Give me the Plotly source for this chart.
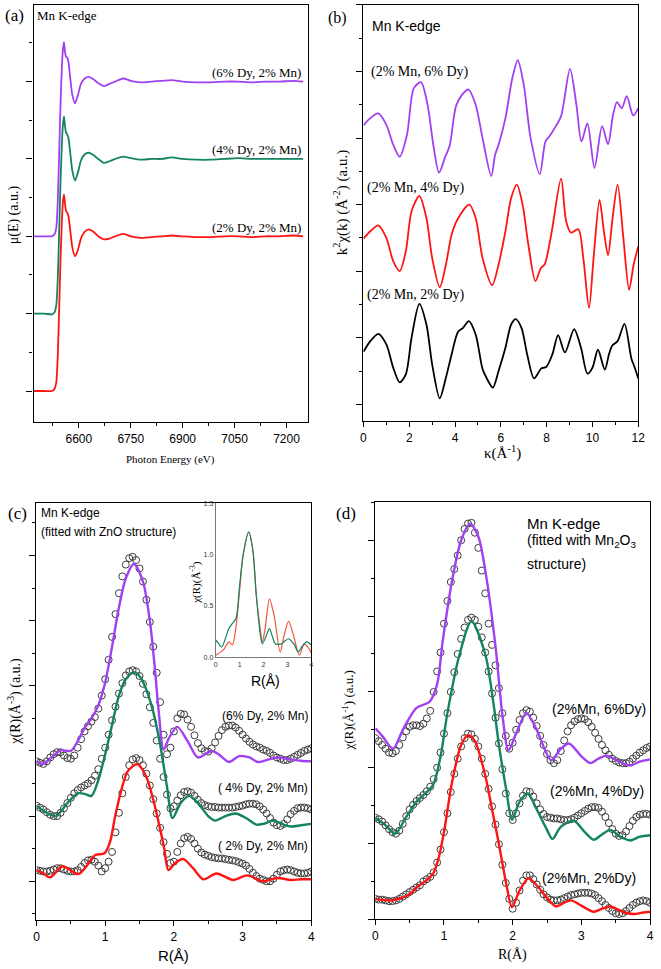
import numpy as np
import plotly.graph_objects as go

W, H = 661, 969
SERIF = "Liberation Serif, Times New Roman, serif"
SANS = "Liberation Sans, Arial, sans-serif"
PURPLE = "#a040f0"
GREEN = "#138462"
RED = "#ff1414"
BLACK = "#000000"

# ---------------- (a) XANES ----------------
E_a = [6470, 6500, 6522, 6530, 6535, 6539, 6543, 6547, 6551, 6554, 6557, 6560, 6563, 6566, 6570,
       6575, 6581, 6589, 6597, 6606, 6617, 6629, 6642, 6656, 6672, 6688, 6705, 6728, 6750, 6778,
       6810, 6840, 6868, 6900, 6940, 6980, 7020, 7060, 7100, 7140, 7180, 7220, 7248]
mu_2Dy = [0, 0, 0.0, 0.03, 0.12, 0.45, 1.05, 1.7, 2.2, 2.45, 2.54, 2.42, 2.33, 2.31, 2.26,
          2.08, 1.86, 1.74, 1.82, 1.97, 2.06, 2.09, 2.06, 2.0, 1.96, 1.97, 2.0, 2.03, 2.0, 1.98,
          1.99, 2.0, 2.01, 2.0, 1.99, 1.99, 2.0, 2.0, 1.99, 2.0, 2.0, 2.01, 2.0]
mu_4Dy = [1, 1, 0.99, 1.02, 1.12, 1.45, 2.05, 2.7, 3.2, 3.45, 3.55, 3.42, 3.34, 3.32, 3.27,
          3.08, 2.85, 2.72, 2.82, 2.98, 3.06, 3.08, 3.05, 3.0, 2.95, 2.97, 3.0, 3.03, 3.01, 2.99,
          3.0, 3.0, 3.02, 3.0, 2.99, 2.99, 3.0, 3.01, 3.0, 3.0, 3.0, 3.0, 3.0]
mu_6Dy = [2, 2, 2.0, 2.03, 2.12, 2.45, 3.05, 3.7, 4.2, 4.42, 4.51, 4.38, 4.32, 4.31, 4.25,
          4.05, 3.83, 3.72, 3.82, 3.97, 4.04, 4.06, 4.03, 3.98, 3.94, 3.97, 4.0, 4.04, 4.01, 3.99,
          4.0, 4.01, 4.02, 4.0, 3.99, 3.99, 4.0, 4.0, 3.99, 4.0, 4.0, 4.01, 4.0]

# ---------------- (b) k-space ----------------
k_2Dy = [0, 0.3, 0.65, 1.0, 1.3, 1.58, 1.85, 2.1, 2.44, 2.75, 3.0, 3.33, 3.6, 3.85, 4.13, 4.35,
         4.6, 4.9, 5.2, 5.4, 5.65, 5.9, 6.2, 6.45, 6.65, 6.9, 7.15, 7.45, 7.77, 7.98, 8.25, 8.5,
         8.8, 9.2, 9.5, 9.78, 10.0, 10.24, 10.54, 10.72, 10.86, 11.1, 11.4, 11.7, 11.85, 12.0]
chi_2Dy = [0.79, 0.95, 1.06, 0.9, 0.55, 0.33, 0.45, 1.0, 1.51, 1.2, 0.6, 0.09, 0.4, 0.75, 1.09, 1.15,
           1.25, 1.05, 0.53, 0.38, 0.25, 0.5, 0.85, 1.2, 1.28, 1.15, 0.75, 0.39, 0.54, 0.56, 0.75, 1.04,
           0.78, 1.13, 0.85, 0.46, 0.55, 0.82, 0.52, 0.75, 0.88, 0.95, 1.21, 0.69, 0.55, 0.39]
k_4Dy = [0, 0.3, 0.65, 1.0, 1.3, 1.58, 1.85, 2.1, 2.44, 2.75, 3.0, 3.33, 3.6, 3.85, 4.11, 4.62,
         4.9, 5.2, 5.62, 5.9, 6.2, 6.45, 6.7, 6.95, 7.2, 7.51, 7.75, 7.91, 8.2, 8.63, 8.85, 9.06,
         9.38, 9.6, 9.85, 10.05, 10.31, 10.5, 10.68, 10.88, 11.1, 11.35, 11.6, 11.8, 12.0]
chi_4Dy = [2.49, 2.6, 2.69, 2.5, 2.15, 2.0, 2.3, 2.9, 3.13, 2.8, 2.2, 1.76, 2.1, 2.55, 2.78, 3.0,
           2.8, 2.2, 1.79, 2.1, 2.6, 3.1, 3.3, 3.0, 2.4, 1.85, 2.05, 2.1, 2.55, 3.39, 2.75, 2.58,
           2.63, 2.2, 1.45, 2.2, 3.07, 2.6, 2.24, 2.8, 3.3, 2.5, 1.72, 2.1, 2.37]
k_6Dy = [0, 0.3, 0.65, 1.0, 1.3, 1.58, 1.9, 2.2, 2.51, 2.8, 3.05, 3.3, 3.55, 3.76, 4.04, 4.3,
         4.59, 4.9, 5.2, 5.58, 5.75, 5.9, 6.2, 6.5, 6.74, 7.0, 7.3, 7.7, 7.95, 8.13, 8.35, 8.63,
         9.02, 9.3, 9.52, 9.78, 10.09, 10.42, 10.68, 10.9, 11.07, 11.28, 11.5, 11.78, 12.0]
chi_6Dy = [4.19, 4.3, 4.37, 4.2, 3.9, 3.72, 4.05, 4.75, 4.84, 4.5, 3.9, 3.48, 3.7, 3.88, 4.48, 4.65,
           4.73, 4.5, 4.0, 3.43, 3.75, 3.9, 4.3, 4.9, 5.17, 4.8, 4.0, 3.46, 3.95, 4.03, 4.15, 4.33,
           5.04, 4.5, 3.95, 4.22, 3.55, 4.18, 3.91, 4.35, 4.54, 4.45, 4.63, 4.34, 4.45]

# ---------------- (c) R-space, ZnO fits ----------------
R_data = np.round(np.linspace(0, 4, 81), 2)
c_dat_2Dy = [0.17, 0.16, 0.15, 0.15, 0.16, 0.18, 0.2, 0.2, 0.18, 0.16, 0.15,
             0.15, 0.17, 0.22, 0.28, 0.32, 0.33, 0.3, 0.24, 0.15, 0.2,
             0.3, 0.45, 0.75, 1.05, 1.35, 1.6, 1.78, 1.87, 1.89, 1.86,
             1.78, 1.65, 1.47, 1.26, 1.04, 0.82, 0.6, 0.42, 0.28, 0.3,
             0.45, 0.58, 0.66, 0.68, 0.65, 0.58, 0.5, 0.44, 0.41, 0.39,
             0.37, 0.36, 0.35, 0.35, 0.34, 0.33, 0.32, 0.31, 0.29, 0.27,
             0.24, 0.19, 0.13, 0.08, 0.04, 0.02, 0.0, 0.0, 0.04, 0.1,
             0.15, 0.17, 0.18, 0.17, 0.15, 0.13, 0.12, 0.12, 0.13, 0.15]
c_dat_4Dy = [1.16, 1.13, 1.1, 1.06, 1.02, 1.0, 1.0, 1.05, 1.12, 1.2, 1.28,
             1.35, 1.4, 1.44, 1.47, 1.5, 1.55, 1.62, 1.72, 1.88, 2.05,
             2.25, 2.47, 2.68, 2.88, 3.04, 3.16, 3.22, 3.24, 3.22, 3.15,
             3.03, 2.87, 2.67, 2.43, 2.16, 1.88, 1.6, 1.33, 1.12, 1.15,
             1.24, 1.32, 1.37, 1.38, 1.36, 1.31, 1.25, 1.2, 1.17, 1.15,
             1.14, 1.14, 1.13, 1.13, 1.13, 1.13, 1.13, 1.14, 1.15, 1.16,
             1.18, 1.19, 1.19, 1.18, 1.15, 1.1, 1.04, 0.97, 0.9, 0.86,
             0.85, 0.88, 0.95, 1.03, 1.08, 1.12, 1.13, 1.13, 1.12, 1.1]
c_dat_6Dy = [1.84, 1.82, 1.8, 1.84, 1.9, 1.95, 1.98, 1.98, 1.93, 1.89, 1.88,
             1.93, 2.05, 2.18, 2.3, 2.38, 2.45, 2.52, 2.65, 2.85, 3.1,
             3.4, 3.75, 4.1, 4.42, 4.68, 4.86, 4.96, 4.98, 4.93, 4.8,
             4.6, 4.32, 3.98, 3.6, 3.2, 2.75, 2.25, 1.95, 2.05, 2.3,
             2.5, 2.57, 2.56, 2.48, 2.37, 2.24, 2.12, 2.04, 2.0, 1.99,
             2.04, 2.13, 2.23, 2.32, 2.37, 2.39, 2.39, 2.36, 2.31, 2.25,
             2.19, 2.14, 2.1, 2.07, 2.05, 2.02, 2.0, 1.97, 1.93, 1.9,
             1.88, 1.86, 1.86, 1.88, 1.91, 1.94, 1.97, 2.0, 2.02, 2.04]
c_R_fit_2Dy = [0, 0.1, 0.2, 0.37, 0.45, 0.61, 0.72, 0.85, 0.99, 1.07, 1.14, 1.23, 1.33, 1.47, 1.6, 1.7,
               1.8, 1.86, 1.92, 2.02, 2.14, 2.28, 2.43, 2.62, 2.86, 3.07, 3.29, 3.5, 3.7, 3.85, 4.0]
c_fit_2Dy = [0.17, 0.12, 0.06, 0.23, 0.2, 0.11, 0.22, 0.4, 0.43, 0.6, 0.97, 1.38, 1.69, 1.8, 1.6, 1.25,
             0.8, 0.5, 0.17, 0.28, 0.34, 0.2, 0.03, 0.12, 0.02, 0.09, 0.0, 0.05, 0.02, 0.03, 0.03]
c_R_fit_4Dy = [0, 0.1, 0.28, 0.45, 0.6, 0.7, 0.8, 0.9, 1.0, 1.1, 1.2, 1.3, 1.42, 1.52, 1.62, 1.7, 1.8,
               1.9, 1.98, 2.1, 2.22, 2.35, 2.5, 2.6, 2.75, 2.9, 3.05, 3.2, 3.3, 3.45, 3.6, 3.7, 3.85, 4.0]
c_fit_4Dy = [1.16, 1.08, 1.0, 1.2, 1.35, 1.34, 1.31, 1.55, 1.95, 2.4, 2.85, 3.1, 3.21, 3.12, 2.88, 2.6, 2.1,
             1.45, 0.97, 1.2, 1.31, 1.2, 1.0, 0.93, 1.0, 1.04, 0.97, 0.87, 0.88, 0.93, 0.87, 0.84, 0.86, 0.88]
c_R_fit_6Dy = [0, 0.1, 0.2, 0.35, 0.5, 0.6, 0.7, 0.8, 0.9, 1.0, 1.1, 1.2, 1.3, 1.42, 1.55, 1.65, 1.72,
               1.78, 1.85, 1.93, 2.05, 2.2, 2.35, 2.55, 2.65, 2.8, 2.95, 3.1, 3.22, 3.35, 3.5, 3.7, 3.85, 4.0]
c_fit_6Dy = [1.84, 1.8, 1.88, 2.01, 2.0, 2.15, 2.35, 2.5, 2.7, 3.05, 3.6, 4.2, 4.65, 4.87, 4.6, 4.0, 3.3,
             2.6, 2.02, 2.2, 2.37, 2.15, 1.9, 2.0, 1.95, 1.83, 1.92, 1.9, 1.83, 1.86, 1.9, 1.87, 1.85, 1.84]

# inset of (c)
ins_R_green = [0, 0.1, 0.25, 0.4, 0.55, 0.7, 0.85, 1.0, 1.15, 1.38, 1.55, 1.7, 1.85, 1.95, 2.1, 2.25,
               2.4, 2.5, 2.75, 2.9, 3.05, 3.2, 3.3, 3.45, 3.6, 3.8, 4.0]
ins_green = [0.17, 0.14, 0.1, 0.18, 0.28, 0.33, 0.38, 0.7, 1.0, 1.22, 1.05, 0.6, 0.25, 0.13, 0.2, 0.28,
             0.18, 0.13, 0.13, 0.16, 0.18, 0.15, 0.12, 0.05, 0.1, 0.15, 0.12]
ins_R_red = [0, 0.2, 0.35, 0.45, 0.55, 0.7, 0.85, 1.0, 1.15, 1.38, 1.55, 1.7, 1.85, 1.95, 2.05, 2.25,
             2.45, 2.7, 2.85, 3.05, 3.25, 3.5, 3.7, 3.85, 4.0]
ins_red = [0.02, 0.05, 0.08, 0.12, 0.15, 0.12, 0.3, 0.65, 1.0, 1.22, 1.05, 0.6, 0.3, 0.15, 0.25, 0.57,
           0.4, 0.05, 0.2, 0.35, 0.22, 0.02, 0.13, 0.1, 0.04]

# ---------------- (d) R-space, Mn2O3 fits ----------------
d_dat_2Dy = [0.27, 0.26, 0.26, 0.25, 0.24, 0.24, 0.25, 0.27, 0.3, 0.33, 0.36,
             0.39, 0.42, 0.45, 0.5, 0.53, 0.56, 0.62, 0.75, 0.92, 1.15,
             1.4, 1.68, 1.92, 2.12, 2.28, 2.39, 2.45, 2.44, 2.38, 2.28,
             2.12, 1.92, 1.72, 1.49, 1.25, 0.99, 0.72, 0.48, 0.27, 0.14,
             0.22, 0.38, 0.51, 0.58, 0.58, 0.53, 0.46, 0.39, 0.33, 0.29,
             0.26, 0.25, 0.25, 0.26, 0.28, 0.3, 0.32, 0.33, 0.34, 0.35,
             0.35, 0.35, 0.34, 0.32, 0.28, 0.24, 0.19, 0.15, 0.11, 0.08,
             0.07, 0.08, 0.11, 0.15, 0.19, 0.22, 0.24, 0.25, 0.24, 0.22]
d_dat_4Dy = [1.34, 1.32, 1.29, 1.24, 1.19, 1.15, 1.13, 1.17, 1.26, 1.36, 1.45,
             1.51, 1.56, 1.6, 1.64, 1.69, 1.75, 1.85, 2.0, 2.2, 2.45,
             2.72, 3.0, 3.26, 3.5, 3.7, 3.85, 3.95, 3.98, 3.95, 3.86,
             3.72, 3.52, 3.27, 2.98, 2.66, 2.32, 1.98, 1.66, 1.4, 1.31,
             1.4, 1.53, 1.63, 1.69, 1.68, 1.62, 1.53, 1.45, 1.39, 1.35,
             1.34, 1.33, 1.33, 1.32, 1.31, 1.31, 1.32, 1.34, 1.37, 1.4,
             1.43, 1.46, 1.48, 1.48, 1.47, 1.42, 1.35, 1.27, 1.19, 1.13,
             1.1, 1.11, 1.16, 1.23, 1.3, 1.35, 1.38, 1.39, 1.39, 1.38]
d_dat_6Dy = [2.39, 2.35, 2.3, 2.25, 2.2, 2.19, 2.22, 2.3, 2.4, 2.48, 2.54,
             2.56, 2.56, 2.55, 2.58, 2.65, 2.75, 3.0, 3.27, 3.52, 3.9,
             4.2, 4.45, 4.62, 4.8, 5.0, 5.15, 5.22, 5.23, 5.1, 4.9,
             4.6, 4.3, 3.9, 3.62, 3.35, 3.05, 2.72, 2.42, 2.25, 2.33,
             2.5, 2.63, 2.72, 2.76, 2.74, 2.66, 2.55, 2.42, 2.3, 2.18,
             2.1, 2.06, 2.1, 2.22, 2.36, 2.48, 2.56, 2.61, 2.64, 2.65,
             2.64, 2.6, 2.54, 2.46, 2.38, 2.3, 2.23, 2.17, 2.12, 2.09,
             2.07, 2.06, 2.06, 2.08, 2.12, 2.16, 2.2, 2.23, 2.26, 2.28]
d_R_fit_2Dy = [0, 0.25, 0.5, 0.6, 0.74, 0.84, 0.92, 1.0, 1.12, 1.25, 1.35, 1.45, 1.6, 1.7, 1.79, 1.9,
               1.99, 2.1, 2.23, 2.35, 2.5, 2.63, 2.75, 2.85, 3.0, 3.18, 3.3, 3.42, 3.6, 3.76, 3.9, 4.0]
d_fit_2Dy = [0.27, 0.25, 0.33, 0.42, 0.51, 0.6, 0.8, 1.15, 1.82, 2.3, 2.43, 2.35, 1.9, 1.45, 1.04, 0.5,
             0.16, 0.38, 0.54, 0.45, 0.28, 0.17, 0.22, 0.25, 0.18, 0.1, 0.14, 0.17, 0.1, 0.07, 0.09, 0.1]
d_R_fit_4Dy = [0, 0.15, 0.29, 0.45, 0.6, 0.69, 0.84, 0.95, 1.05, 1.22, 1.4, 1.6, 1.72, 1.8, 1.91, 1.99,
               2.1, 2.22, 2.35, 2.5, 2.58, 2.7, 2.89, 3.05, 3.18, 3.3, 3.42, 3.55, 3.71, 3.85, 4.0]
d_fit_4Dy = [1.34, 1.24, 1.13, 1.35, 1.55, 1.63, 1.77, 2.15, 2.72, 3.47, 3.93, 3.5, 2.85, 2.3, 1.69, 1.31,
             1.55, 1.66, 1.45, 1.18, 1.06, 1.22, 1.3, 1.15, 1.05, 1.12, 1.18, 1.1, 1.04, 1.09, 1.11]
d_R_fit_6Dy = [0, 0.1, 0.26, 0.4, 0.6, 0.79, 0.9, 0.98, 1.12, 1.25, 1.38, 1.5, 1.6, 1.75, 1.85, 1.94,
               2.05, 2.2, 2.35, 2.56, 2.7, 2.82, 3.0, 3.13, 3.25, 3.37, 3.55, 3.71, 3.85, 4.0]
d_fit_6Dy = [2.52, 2.42, 2.25, 2.5, 2.79, 2.87, 3.1, 3.66, 4.48, 5.0, 5.22, 5.05, 4.61, 3.6, 2.7, 2.23,
             2.45, 2.72, 2.5, 2.1, 2.25, 2.32, 2.15, 2.06, 2.12, 2.16, 2.08, 2.03, 2.08, 2.11]

# ---------------- helpers (window pixels -> paper) ----------------
def px_x(px):
    return min(max(px / W, 0.0), 1.0)

def px_y(py):
    return min(max(1 - py / H, 0.0), 1.0)

def dom(x0, x1, y0, y1):
    return [px_x(x0), px_x(x1)], [px_y(y1), px_y(y0)]

fig = go.Figure()

def line(x, y, ax, color, width=2.0, smooth=0.8):
    fig.add_trace(go.Scatter(x=x, y=y, mode="lines", xaxis="x" + ax, yaxis="y" + ax,
                             line=dict(color=color, width=width, shape="spline", smoothing=smooth),
                             showlegend=False, hoverinfo="skip"))

def circles(x, y, ax):
    fig.add_trace(go.Scatter(x=x, y=y, mode="markers", xaxis="x" + ax, yaxis="y" + ax,
                             marker=dict(symbol="circle-open", size=7, color="#3c3c3c",
                                         line=dict(width=1, color="#3c3c3c")),
                             showlegend=False, hoverinfo="skip"))

# (a)
line(E_a, mu_2Dy, "", RED, 1.8, 0.6)
line(E_a, mu_4Dy, "", GREEN, 1.8, 0.6)
line(E_a, mu_6Dy, "", PURPLE, 1.8, 0.6)
# (b)
line(k_6Dy, chi_6Dy, "2", PURPLE, 1.8)
line(k_4Dy, chi_4Dy, "2", RED, 1.8)
line(k_2Dy, chi_2Dy, "2", BLACK, 1.8)
# (c)
circles(R_data, c_dat_6Dy, "3")
circles(R_data, c_dat_4Dy, "3")
circles(R_data, c_dat_2Dy, "3")
line(c_R_fit_6Dy, c_fit_6Dy, "3", PURPLE, 2.4)
line(c_R_fit_4Dy, c_fit_4Dy, "3", GREEN, 2.4)
line(c_R_fit_2Dy, c_fit_2Dy, "3", RED, 2.4)
# (d)
circles(R_data, d_dat_6Dy, "4")
circles(R_data, d_dat_4Dy, "4")
circles(R_data, d_dat_2Dy, "4")
line(d_R_fit_6Dy, d_fit_6Dy, "4", PURPLE, 2.4)
line(d_R_fit_4Dy, d_fit_4Dy, "4", GREEN, 2.4)
line(d_R_fit_2Dy, d_fit_2Dy, "4", RED, 2.4)
# inset
line(ins_R_red, ins_red, "5", "#f0553c", 1.2)
line(ins_R_green, ins_green, "5", GREEN, 1.2)

tickfont = dict(family=SANS, size=12, color="black")

def xax(domain, rng, dtick, minor_dtick, tick0=0, anchor="y"):
    return dict(domain=domain, range=rng, anchor=anchor, showline=True, mirror=True,
                linecolor="black", linewidth=1.3, ticks="outside", ticklen=5, tickwidth=1.2,
                tickcolor="black", tickmode="linear", tick0=tick0, dtick=dtick,
                minor=dict(ticks="outside", ticklen=3, dtick=minor_dtick, tick0=tick0,
                           tickcolor="black", tickwidth=1.1),
                ticklabeloverflow="allow",
                showgrid=False, zeroline=False, tickfont=tickfont)

def yax(domain, rng, anchor="x"):
    return dict(domain=domain, range=rng, anchor=anchor, showline=True, mirror=True,
                linecolor="black", linewidth=1.3, ticks="outside", ticklen=6, tickwidth=1.2,
                tickcolor="black", tickmode="linear", tick0=0, dtick=1,
                minor=dict(ticks="outside", ticklen=3, dtick=0.5, tick0=0,
                           tickcolor="black", tickwidth=1.1),
                showticklabels=False, showgrid=False, zeroline=False)

xa, ya = dom(31, 310, 1, 421)
xb, yb = dom(366, 645, 1, 420)
xc, yc = dom(34, 313, 503, 923)
xd, yd = dom(378, 657, 502, 922)
xi, yi = dom(216, 313, 503, 658)

layout = dict(
    width=W, height=H, margin=dict(l=0, r=0, t=0, b=0),
    paper_bgcolor="white", plot_bgcolor="rgba(0,0,0,0)", showlegend=False,
    xaxis=xax(xa, [6469, 7263], 150, 75, tick0=6600, anchor="y"),
    yaxis=yax(ya, [-0.4, 4.99], anchor="x"),
    xaxis2=xax(xb, [0, 12], 2, 1, anchor="y2"),
    yaxis2=yax(yb, [-0.25, 6.0], anchor="x2"),
    xaxis3=xax(xc, [0, 4], 1, 0.5, anchor="y3"),
    yaxis3=yax(yc, [-0.6, 5.8], anchor="x3"),
    xaxis4=xax(xd, [0, 4], 1, 0.5, anchor="y4"),
    yaxis4=yax(yd, [0, 5.5], anchor="x4"),
    xaxis5=dict(domain=xi, range=[0, 4], anchor="y5", showline=True, linecolor="#777",
                linewidth=1, ticks="", tickmode="linear", tick0=0, dtick=1,
                showgrid=False, zeroline=False, tickfont=dict(family=SANS, size=7, color="#333")),
    yaxis5=dict(domain=yi, range=[0, 1.5], anchor="x5", showline=True, linecolor="#777",
                linewidth=1, ticks="", tickmode="linear", tick0=0, dtick=0.5, tickformat=".1f",
                showgrid=False, zeroline=False, tickfont=dict(family=SANS, size=7, color="#333")),
)
fig.update_layout(**layout)

def ann(text, x, y, size, family=SERIF, xanchor="center", angle=0):
    fig.add_annotation(text=text, x=px_x(x), y=px_y(y), xref="paper", yref="paper",
                       showarrow=False, xanchor=xanchor, yanchor="middle", textangle=angle,
                       font=dict(family=family, size=size, color="black"))

# (a) texts
ann("(a)", 12, 12, 17)
ann("Mn K-edge", 32, 12, 13, xanchor="left")
ann("(6% Dy, 2% Mn)", 305, 69, 13, xanchor="right")
ann("(4% Dy, 2% Mn)", 305, 147, 13, xanchor="right")
ann("(2% Dy, 2% Mn)", 305, 225, 13, xanchor="right")
ann("μ(E) (a.u.)", 12, 212, 14, angle=-90)
ann("Photon Energy (eV)", 170, 459, 11)
# (b) texts
ann("(b)", 340, 14, 16)
ann("Mn K-edge", 373, 22, 14, family=SANS, xanchor="left")
ann("(2% Mn, 6% Dy)", 372, 68, 14, xanchor="left")
ann("(2% Mn, 4% Dy)", 368, 185, 14, xanchor="left")
ann("(2% Mn, 2% Dy)", 368, 293, 14, xanchor="left")
ann("k<sup>2</sup>χ(k) (Å<sup>-2</sup>) (a.u.)", 343, 200, 15, angle=-90)
ann("κ(Å<sup>-1</sup>)", 507, 452, 15)
# (c) texts
ann("(c)", 15, 513, 17)
ann("Mn K-edge", 37, 513, 12, family=SANS, xanchor="left")
ann("(fitted with ZnO structure)", 37, 532, 12, family=SANS, xanchor="left")
ann("(6% Dy, 2% Mn)", 312, 717, 12, family=SANS, xanchor="right")
ann("( 4% Dy, 2% Mn)", 312, 790, 12, family=SANS, xanchor="right")
ann("( 2% Dy, 2% Mn)", 312, 848, 12, family=SANS, xanchor="right")
ann("χ(R)(Å<sup>-3</sup>) (a.u.)", 12, 702, 14, angle=-90)
ann("R(Å)", 173, 958, 15, family=SANS)
ann("χ(R)(Å<sup>-3</sup>)", 196, 583, 11, angle=-90)
ann("R(Å)", 267, 682, 14, family=SANS)
# (d) texts
ann("(d)", 348, 513, 17)
ann("Mn K-edge", 530, 523, 15, family=SANS, xanchor="left")
ann("(fitted with Mn<sub>2</sub>O<sub>3</sub>", 530, 541, 14, family=SANS, xanchor="left")
ann("structure)", 530, 564, 14, family=SANS, xanchor="left")
ann("(2%Mn, 6%Dy)", 655, 710, 14, family=SANS, xanchor="right")
ann("(2%Mn, 4%Dy)", 653, 793, 14, family=SANS, xanchor="right")
ann("(2%Mn, 2%Dy)", 645, 880, 14, family=SANS, xanchor="right")
ann("χ(R)(Å<sup>-1</sup>) (a.u.)", 350, 712, 13, angle=-90)
ann("R(Å)", 517, 958, 14)

# remove the default 8px page margin so the 661x969 figure fills the window exactly
fig.write_html("out.html", config={"displayModeBar": False},
               post_script="document.body.style.margin='0';document.body.style.overflow='hidden';")
